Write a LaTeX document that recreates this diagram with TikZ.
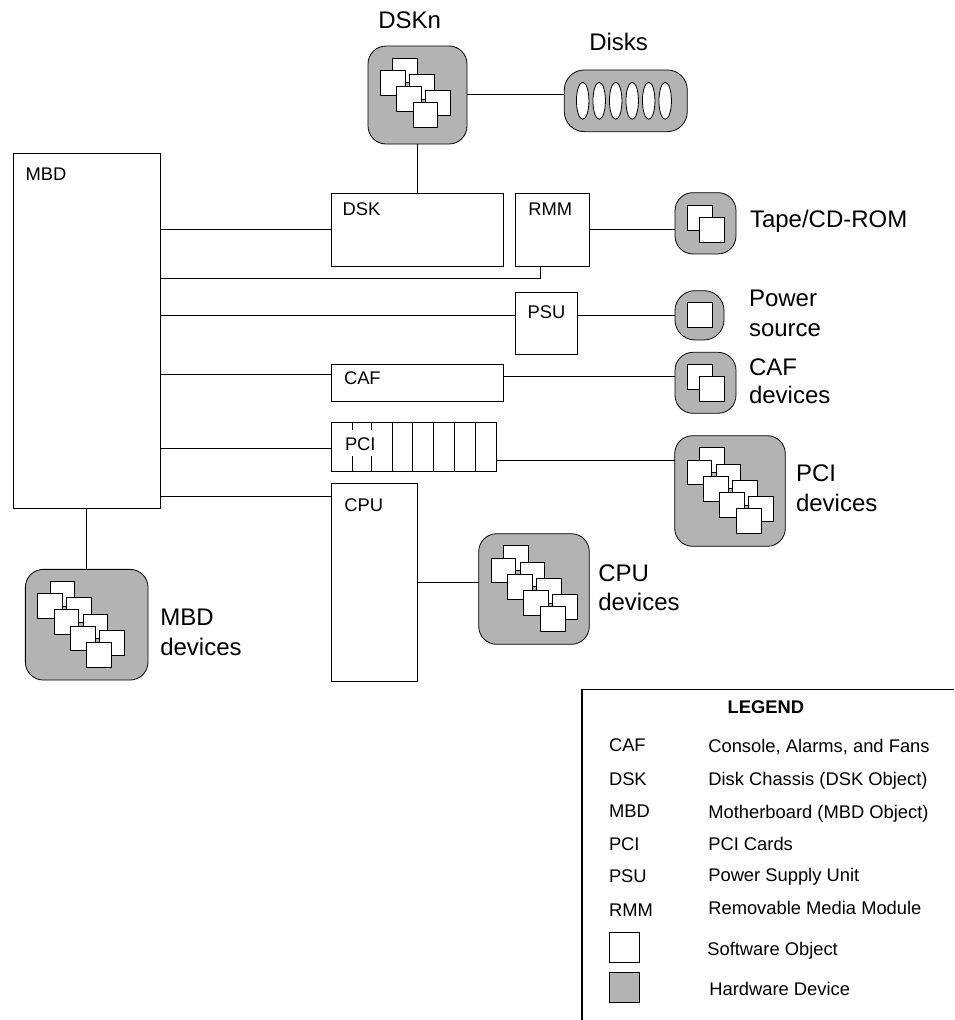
\documentclass[tikz,border=0pt]{standalone}
\usepackage{fontspec}
\setmainfont{Liberation Sans}
\usetikzlibrary{calc,shapes.geometric}
\definecolor{hwgray}{HTML}{B3B3B3}
\tikzset{
  unit/.style={draw, line width=0.8pt, inner sep=0pt, outer sep=0pt},
  hwdev/.style={unit, fill=hwgray, rounded corners=18pt},
  swobj/.style={unit, fill=white, minimum size=24.7pt, anchor=north west},
  txtsmall/.style={inner sep=0pt, outer sep=0pt, anchor=base west, font=\fontsize{18.35}{21}\selectfont},
  txtbig/.style={inner sep=0pt, outer sep=0pt, anchor=base west, font=\fontsize{24}{28}\selectfont},
  wire/.style={line width=0.8pt}
}
\newcommand{\softstack}[2]{%
  \foreach \i in {0,...,#2} {
    \node[swobj] (#1back\i) at ($(#1.north west)+(24.8+16.4*\i,12+16.3*\i)$) {};
    \node[swobj] (#1front\i) at ($(#1.north west)+(12.3+16.4*\i,24.2+16.3*\i)$) {};
  }}
\begin{document}
\begin{tikzpicture}[x=1pt,y=-1pt]
\useasboundingbox (0,0) rectangle (954,1020);
% main boards
\node[unit, minimum width=147pt, minimum height=355pt] (mbd) at (87,330.7) {};
\node[unit, minimum width=171.5pt, minimum height=73.5pt] (dsk) at (417.5,229.7) {};
\node[unit, minimum width=74pt, minimum height=73.5pt] (rmm) at (552.2,229.7) {};
\node[unit, minimum width=62pt, minimum height=61.6pt] (psu) at (546.3,323.5) {};
\node[unit, minimum width=171.5pt, minimum height=36.5pt] (caf) at (417.5,382.8) {};
\node[unit, minimum width=164.6pt, minimum height=49pt] (pci) at (414,447.2) {};
\node[unit, minimum width=86pt, minimum height=197.5pt] (cpu) at (374.7,582.5) {};
\foreach \x in {392,412.7,433.3,454.3,475.3}
  \draw[wire] (\x,0 |- pci.north) -- (\x,0 |- pci.south);
\foreach \x in {352.7,371.7} {
  \draw[wire] (\x,0 |- pci.north) -- (\x,430);
  \draw[wire] (\x,456) -- (\x,0 |- pci.south);
}
% hardware devices
\node[hwdev, minimum width=99pt, minimum height=98pt] (dskn) at (417.5,95) {};
\node[hwdev, rounded corners=20pt, minimum width=123pt, minimum height=61.7pt] (disks) at (625.8,100.8) {};
\node[hwdev, minimum width=61pt, minimum height=61.3pt] (tape) at (705.5,223.3) {};
\node[hwdev, rounded corners=20pt, minimum width=49pt, minimum height=49.3pt] (power) at (699.5,315.3) {};
\node[hwdev, minimum width=61pt, minimum height=61pt] (cafdev) at (705.5,382.8) {};
\node[hwdev, minimum width=110.6pt, minimum height=110.6pt] (pcidev) at (730,491) {};
\node[hwdev, minimum width=110.6pt, minimum height=110.6pt] (cpudev) at (534,589) {};
\node[hwdev, minimum width=122.7pt, minimum height=110.7pt] (mbddev) at (86.7,624.7) {};
\softstack{dskn}{2}
\softstack{pcidev}{3}
\softstack{cpudev}{3}
\softstack{mbddev}{3}
\foreach \i in {0,...,5}
  \node[unit, fill=white, ellipse, minimum width=12.5pt, minimum height=37pt] (disk\i) at ($(disks.west)+(18.4+16.5*\i,0)$) {};
\node[swobj] (tapeback) at (687.3,205.3) {};
\node[swobj] (tapefront) at (699.3,217.7) {};
\node[swobj] (powerobj) at (687.3,302.3) {};
\node[swobj] (cafback) at (687.3,364.3) {};
\node[swobj] (caffront) at (699.3,376.7) {};
% connectors
\coordinate (rmmtap) at (540.3,278.3);
\coordinate (psuwire) at (0,315.3);
\coordinate (cafwire) at (0,374.7);
\coordinate (cafout) at (0,376.7);
\coordinate (pciwire) at (0,448.2);
\coordinate (pciout) at (0,460.3);
\coordinate (cpuwire) at (0,496.5);
\coordinate (cpuout) at (0,582.6);
\coordinate (diskwire) at (0,94.3);
\draw[wire] (mbd.east |- dsk.west) -- (dsk.west);
\draw[wire] (rmm.south -| rmmtap) -- (rmmtap) -- (mbd.east |- rmmtap);
\draw[wire] (mbd.east |- psuwire) -- (psu.west |- psuwire);
\draw[wire] (psu.east |- power.west) -- (power.west);
\draw[wire] (mbd.east |- cafwire) -- (caf.west |- cafwire);
\draw[wire] (caf.east |- cafout) -- (cafdev.west |- cafout);
\draw[wire] (mbd.east |- pciwire) -- (pci.west |- pciwire);
\draw[wire] (pci.east |- pciout) -- (pcidev.west |- pciout);
\draw[wire] (mbd.east |- cpuwire) -- (cpu.west |- cpuwire);
\draw[wire] (cpu.east |- cpuout) -- (cpudev.west |- cpuout);
\draw[wire] (dskn.south) -- (dsk.north);
\draw[wire] (dskn.east |- diskwire) -- (disks.west |- diskwire);
\draw[wire] (rmm.east) -- (tape.west |- rmm.east);
\draw[wire] (mbd.south -| mbddev.north) -- (mbddev.north);
% labels
\node[txtbig] (dsknlabel) at (378.3,28.3) {DSKn};
\node[txtbig] (diskslabel) at (589.3,50) {Disks};
\node[txtbig] (tapelabel) at (750,227.7) {Tape/CD-ROM};
\node[txtbig] (powerlabel) at (749,306.7) {Power};
\node[txtbig] (sourcelabel) at (749,336) {source};
\node[txtbig] (caflabeldev) at (749,375) {CAF};
\node[txtbig] (cafdevices) at (749,403.3) {devices};
\node[txtbig] (pcilabeldev) at (796,481.7) {PCI};
\node[txtbig] (pcidevices) at (796,511.7) {devices};
\node[txtbig] (cpulabeldev) at (598.3,581.7) {CPU};
\node[txtbig] (cpudevices) at (598.3,610) {devices};
\node[txtbig] (mbdlabeldev) at (160.3,625) {MBD};
\node[txtbig] (mbddevices) at (160.3,655) {devices};
\node[txtsmall] (mbdlabel) at (25.7,180) {MBD};
\node[txtsmall] (dsklabel) at (342.7,215) {DSK};
\node[txtsmall] (rmmlabel) at (528.3,215) {RMM};
\node[txtsmall] (psulabel) at (527.7,318.3) {PSU};
\node[txtsmall] (caflabel) at (344,384.3) {CAF};
\node[txtsmall] (pcilabel) at (345,450) {PCI};
\node[txtsmall] (cpulabel) at (344.3,511) {CPU};
% legend
\coordinate (legendtr) at (954,689.5);
\coordinate (legendtl) at (582,689.5);
\coordinate (legendbl) at (582,1019.5);
\draw[line width=1.3pt] (legendtr) -- (legendtl) -- (legendbl);
\node[txtsmall, font=\fontsize{18.35}{21}\selectfont\bfseries] (legendtitle) at (727.7,713.3) {LEGEND};
\node[txtsmall] (keycaf) at (609,751.3) {CAF};
\node[txtsmall] (keydsk) at (609,785) {DSK};
\node[txtsmall] (keymbd) at (609,817.7) {MBD};
\node[txtsmall] (keypci) at (609,850) {PCI};
\node[txtsmall] (keypsu) at (609,882.3) {PSU};
\node[txtsmall] (keyrmm) at (609,916) {RMM};
\node[txtsmall] (desccaf) at (708.3,752.7) {Console, Alarms, and Fans};
\node[txtsmall] (descdsk) at (708.3,785.7) {Disk Chassis (DSK Object)};
\node[txtsmall] (descmbd) at (708.3,818.3) {Motherboard (MBD Object)};
\node[txtsmall] (descpci) at (708.3,850.7) {PCI Cards};
\node[txtsmall] (descpsu) at (708.3,881) {Power Supply Unit};
\node[txtsmall] (descrmm) at (708.3,914.7) {Removable Media Module};
\node[unit, fill=white, minimum size=29.6pt, line width=1pt] (keysw) at (624.5,947.2) {};
\node[unit, fill=hwgray, minimum size=29.6pt, line width=1pt] (keyhw) at (624.5,987.5) {};
\node[txtsmall] (descsw) at (707.3,955.3) {Software Object};
\node[txtsmall] (deschw) at (709.3,995.3) {Hardware Device};
\end{tikzpicture}
\end{document}
